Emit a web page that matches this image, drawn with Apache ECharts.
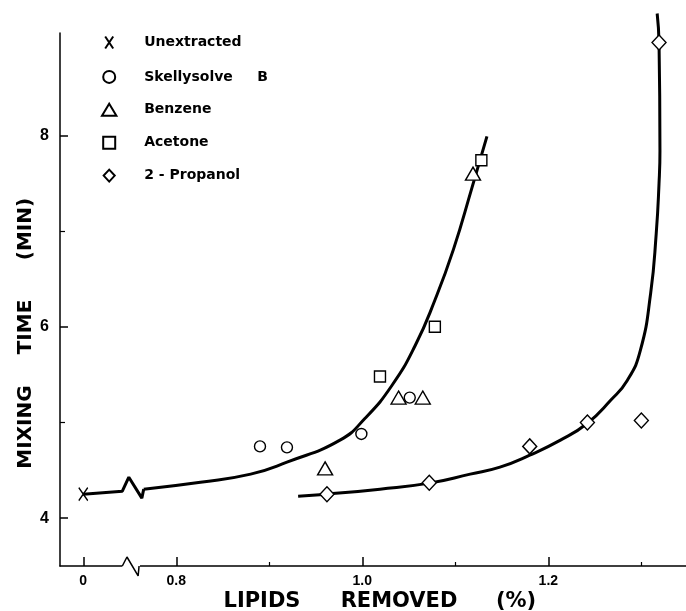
<!DOCTYPE html>
<html>
<head>
<meta charset="utf-8">
<script src="https://cdn.jsdelivr.net/npm/echarts@6/dist/echarts.min.js"></script>
<style>
  html, body { margin: 0; padding: 0; background: #fff; }
  #chart { width: 686px; height: 611px; }
</style>
</head>
<body>
<div id="chart"></div>
<script>
// x axis is broken: the "0" tick sits at 0.7 on the scale
const xTicks = [0.7, 0.8, 1.0, 1.2]
const xMinorTicks = [0.9, 1.1, 1.3]
const yTicks = [4, 6, 8]
const yMinorTicks = [5, 7]

const unextracted = [[0.700, 4.25]]
const skellysolve = [[0.890, 4.75], [0.919, 4.74], [0.999, 4.88], [1.051, 5.26]]
const benzene = [[0.960, 4.52], [1.039, 5.26], [1.065, 5.26], [1.119, 7.60]]
const acetone = [[1.019, 5.48], [1.078, 6.00], [1.128, 7.74]]
const propanol = [[0.962, 4.25], [1.072, 4.37], [1.180, 4.75], [1.242, 5.00], [1.300, 5.02], [1.319, 8.97]]

// hand drawn curves
const curve1Break = [[0.700, 4.251], [0.742, 4.282], [0.749, 4.428], [0.763, 4.209], [0.765, 4.303]]
const curve1 = [[0.765, 4.303], [0.826, 4.376], [0.880, 4.460], [0.919, 4.585], [0.976, 4.815],
  [1.003, 5.044], [1.032, 5.389], [1.057, 5.807], [1.078, 6.277], [1.098, 6.809], [1.118, 7.457], [1.134, 7.990]]
const curve2 = [[0.931, 4.230], [0.962, 4.251], [1.019, 4.303], [1.072, 4.366], [1.116, 4.460],
  [1.148, 4.533], [1.180, 4.658], [1.213, 4.815], [1.242, 4.992], [1.267, 5.232], [1.285, 5.441],
  [1.299, 5.755], [1.310, 6.350], [1.316, 6.977], [1.319, 7.499], [1.320, 7.843], [1.319, 8.971], [1.317, 9.274]]

// zigzag on the x axis line
const axisGap = [[0.742, 3.5], [0.761, 3.5]]
const axisBreak = [[0.742, 3.5], [0.747, 3.594], [0.759, 3.396], [0.760, 3.5]]

const xMin = 0.675
const xMax = 1.348
const yMin = 3.5
const yMax = 9.07

// path symbols keep their shape in the legend
const symX = 'path://M0,0L8,12M8,0L0,12'
const symTriangle = 'path://M6,0L12,10L0,10Z'
const symSquare = 'path://M0,0L10,0L10,10L0,10Z'
const symDiamond = 'path://M6,0L12,6.5L6,13L0,6.5Z'

let myChart = echarts.init(document.getElementById('chart'))

function hollow (name, data, symbol, size) {
  return {
    name: name,
    type: 'scatter',
    data: data,
    symbol: symbol,
    symbolSize: size,
    z: 5,
    itemStyle: { color: '#fff', borderColor: '#000', borderWidth: 1.4, opacity: 1 }
  }
}

function curve (data, smooth, width, color) {
  return {
    type: 'line',
    data: data,
    smooth: smooth,
    symbol: 'none',
    clip: false,
    silent: true,
    z: 3,
    lineStyle: { color: color || '#000', width: width }
  }
}

const titleFont = 'bold 21px "DejaVu Sans"'
const yTitleFont = 'bold 20px "DejaVu Sans"'

let option = {
  backgroundColor: '#fff',
  animation: false,
  grid: { left: 60, right: 0, top: 33, bottom: 45, outerBoundsMode: 'none' },
  legend: {
    orient: 'vertical',
    left: 96,
    top: 29,
    itemWidth: 24,
    itemHeight: 12,
    itemGap: 18.9,
    selectedMode: false,
    data: ['Unextracted', 'Skellysolve     B', 'Benzene', 'Acetone', '2 - Propanol'],
    textStyle: { fontFamily: 'DejaVu Sans', fontWeight: 'bold', fontSize: 14, color: '#000', padding: [0, 0, 0, 18] }
  },
  xAxis: [
    {
      type: 'value',
      min: xMin,
      max: xMax,
      splitLine: { show: false },
      axisLine: { onZero: false, lineStyle: { color: '#000', width: 1.5 } },
      axisTick: { inside: true, length: 9, customValues: xTicks, lineStyle: { color: '#000', width: 1.5 } },
      axisLabel: {
        customValues: xTicks,
        margin: 8,
        color: '#000',
        fontFamily: 'Liberation Sans',
        fontWeight: 'bold',
        fontSize: 14,
        formatter: function (v) {
          return Math.abs(v - 0.7) < 1e-6 ? '0' : v.toFixed(1)
        }
      }
    },
    {
      type: 'value',
      min: xMin,
      max: xMax,
      position: 'bottom',
      splitLine: { show: false },
      axisLine: { show: false },
      axisTick: { inside: true, length: 4, customValues: xMinorTicks, lineStyle: { color: '#000', width: 1.2 } },
      axisLabel: { show: false }
    }
  ],
  yAxis: [
    {
      type: 'value',
      min: yMin,
      max: yMax,
      splitLine: { show: false },
      axisLine: { onZero: false, lineStyle: { color: '#000', width: 1.5 } },
      axisTick: { inside: true, length: 8, customValues: yTicks, lineStyle: { color: '#000', width: 1.5 } },
      axisLabel: {
        customValues: yTicks,
        margin: 11,
        color: '#000',
        fontFamily: 'Liberation Sans',
        fontWeight: 'bold',
        fontSize: 16
      }
    },
    {
      type: 'value',
      min: yMin,
      max: yMax,
      position: 'left',
      splitLine: { show: false },
      axisLine: { show: false },
      axisTick: { inside: true, length: 5, customValues: yMinorTicks, lineStyle: { color: '#000', width: 1.2 } },
      axisLabel: { show: false }
    }
  ],
  graphic: [
    { type: 'text', x: 262, y: 602, style: { text: 'LIPIDS', textAlign: 'center', textVerticalAlign: 'middle', font: titleFont, fill: '#000' } },
    { type: 'text', x: 399, y: 602, style: { text: 'REMOVED', textAlign: 'center', textVerticalAlign: 'middle', font: titleFont, fill: '#000' } },
    { type: 'text', x: 516, y: 602, style: { text: '(%)', textAlign: 'center', textVerticalAlign: 'middle', font: titleFont, fill: '#000' } },
    { type: 'text', x: 26, y: 427, rotation: Math.PI / 2, style: { text: 'MIXING', textAlign: 'center', textVerticalAlign: 'middle', font: yTitleFont, fill: '#000' } },
    { type: 'text', x: 26, y: 327, rotation: Math.PI / 2, style: { text: 'TIME', textAlign: 'center', textVerticalAlign: 'middle', font: yTitleFont, fill: '#000' } },
    { type: 'text', x: 26, y: 229, rotation: Math.PI / 2, style: { text: '(MIN)', textAlign: 'center', textVerticalAlign: 'middle', font: yTitleFont, fill: '#000' } }
  ],
  series: [
    curve(curve1Break, false, 3),
    curve(curve1, 0.5, 3),
    curve(curve2, 0.5, 3),
    curve(axisGap, false, 4, '#fff'),
    curve(axisBreak, false, 1.5),
    {
      name: 'Unextracted',
      type: 'scatter',
      data: unextracted,
      symbol: symX,
      symbolSize: [9, 13],
      z: 5,
      itemStyle: { color: 'none', borderColor: '#000', borderWidth: 1.5, opacity: 1 }
    },
    hollow('Skellysolve     B', skellysolve, 'circle', 11),
    hollow('Benzene', benzene, symTriangle, [15, 13]),
    hollow('Acetone', acetone, symSquare, 11),
    hollow('2 - Propanol', propanol, symDiamond, [14, 15])
  ]
}
myChart.setOption(option, true)
</script>
</body>
</html>
